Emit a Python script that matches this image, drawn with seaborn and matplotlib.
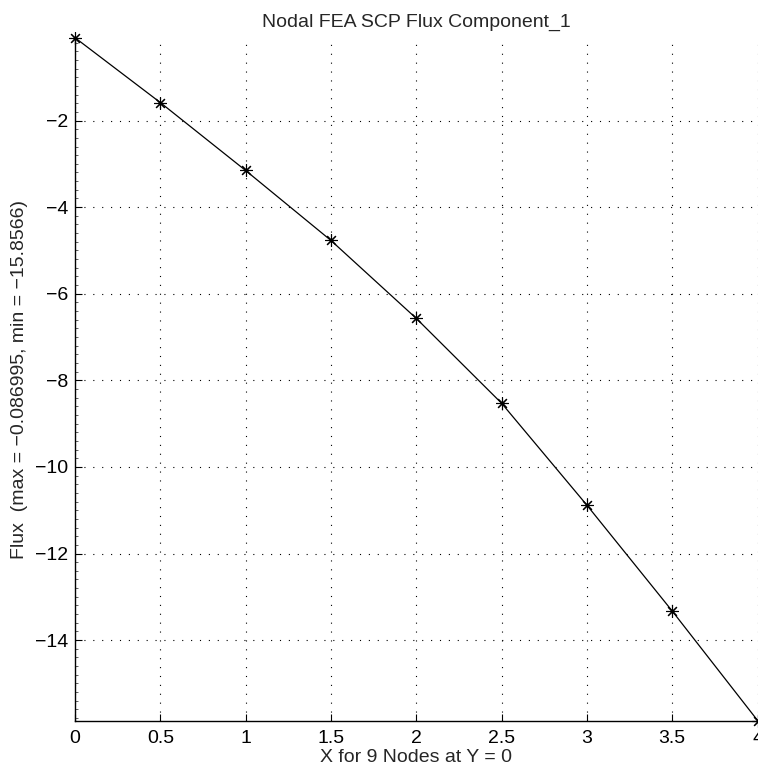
import numpy as np
import pandas as pd
import matplotlib
matplotlib.use("Agg")
import matplotlib.pyplot as plt
from matplotlib.ticker import MultipleLocator, FixedLocator
import seaborn as sns

# Nodal flux values along Y = 0
x_nodes = [0.0, 0.5, 1.0, 1.5, 2.0, 2.5, 3.0, 3.5, 4.0]
flux = [-0.086995, -1.585, -3.154, -4.77, -6.57, -8.53, -10.885, -13.33, -15.8566]
x_ticks = [0, 0.5, 1, 1.5, 2, 2.5, 3, 3.5, 4]
x_tick_labels = ["0", "0.5", "1", "1.5", "2", "2.5", "3", "3.5", "4"]
y_ticks = [-14, -12, -10, -8, -6, -4, -2]
y_tick_labels = ["\u221214", "\u221212", "\u221210", "\u22128", "\u22126", "\u22124", "\u22122"]

sns.set_theme(style="white")
plt.rcParams["font.family"] = ["Liberation Sans", "DejaVu Sans"]

df = pd.DataFrame({"x": x_nodes, "flux": flux})

fig = plt.figure(figsize=(7.58, 7.75), dpi=100)
ax = fig.add_axes([75 / 758, 1 - 720.5 / 775, (757.6 - 75) / 758, (720.5 - 37.7) / 775])

# asterisk markers (eight arms) joined by a thin solid line
sns.lineplot(data=df, x="x", y="flux", ax=ax, color="black", linewidth=0.9,
             marker=(8, 2, 0), markersize=9, markeredgecolor="black",
             markerfacecolor="black", markeredgewidth=0.8, clip_on=False)

ax.set_xlim(0, 4)
ax.set_ylim(min(flux), max(flux))

ax.xaxis.set_major_locator(FixedLocator(x_ticks))
ax.set_xticklabels(x_tick_labels)
ax.yaxis.set_major_locator(FixedLocator(y_ticks))
ax.set_yticklabels(y_tick_labels)
ax.yaxis.set_minor_locator(MultipleLocator(0.2))

ax.tick_params(axis="both", which="major", direction="in", length=5, width=0.8,
               colors="black", labelsize=14, left=True, bottom=True)
ax.tick_params(axis="x", which="major", pad=7)
ax.tick_params(axis="y", which="major", pad=5)
ax.tick_params(axis="y", which="minor", direction="in", length=2.5, width=0.6,
               color="#444444", left=True)

for side in ("top", "right"):
    ax.spines[side].set_visible(False)
for side in ("left", "bottom"):
    ax.spines[side].set_color("black")
    ax.spines[side].set_linewidth(1.0)

ax.grid(True, which="major", color="black", linewidth=0.8, linestyle=(0, (1, 7)))

ax.set_title("Nodal FEA SCP Flux Component_1", fontsize=14, pad=7.5)
ax.set_xlabel("X for 9 Nodes at Y = 0", fontsize=14, labelpad=1.5)
ax.set_ylabel("Flux  (max = \u22120.086995, min = \u221215.8566)", fontsize=14, labelpad=5)

fig.savefig("out.png", dpi=100, facecolor="white")
